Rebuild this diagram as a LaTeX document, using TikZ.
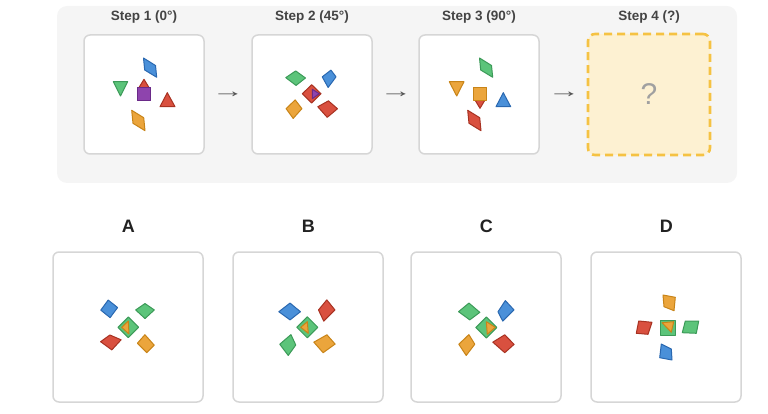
\documentclass[tikz,border=0pt]{standalone}
\usepackage{fontspec}
\setmainfont{Liberation Sans}
\definecolor{panelbg}{HTML}{F5F5F5}
\definecolor{boxline}{HTML}{D6D6D6}
\definecolor{titlec}{HTML}{444444}
\definecolor{letterc}{HTML}{222222}
\definecolor{arrowc}{HTML}{555555}
\definecolor{qc}{HTML}{A0A0A0}
\definecolor{dashc}{HTML}{F5C243}
\definecolor{dashfill}{HTML}{FDF1D2}
\definecolor{cblue}{HTML}{4A90D9}
\definecolor{dblue}{HTML}{2A68B0}
\definecolor{cgreen}{HTML}{5CC47A}
\definecolor{dgreen}{HTML}{3C9A58}
\definecolor{cred}{HTML}{D9503F}
\definecolor{dred}{HTML}{A83222}
\definecolor{corange}{HTML}{EBA53C}
\definecolor{dorange}{HTML}{C88418}
\definecolor{cpurple}{HTML}{8E44AD}
\definecolor{dpurple}{HTML}{6A2A88}
\tikzset{
  panel/.style={fill=panelbg, rounded corners=10pt},
  stepbox/.style={draw=boxline, line width=1.5pt, fill=white, rounded corners=6pt, inner sep=0pt, minimum width=120pt, minimum height=119pt},
  optbox/.style={draw=boxline, line width=1.5pt, fill=white, rounded corners=6pt, inner sep=0pt, minimum width=150pt, minimum height=150pt},
  qbox/.style={draw=dashc, fill=dashfill, line width=2.6pt, dash pattern=on 8pt off 5pt, rounded corners=7pt, inner sep=0pt, minimum width=122pt, minimum height=121pt},
  steptitle/.style={font=\fontsize{13.5}{14}\selectfont\bfseries, text=titlec, inner sep=0pt},
  optletter/.style={font=\fontsize{18}{20}\selectfont\bfseries, text=letterc, inner sep=0pt},
  arrowtxt/.style={font=\fontsize{19}{20}\selectfont, text=arrowc, inner sep=0pt},
  qtxt/.style={font=\fontsize{30}{32}\selectfont, text=qc, inner sep=0pt},
  sh/.style={line width=1pt, line join=round},
  fb/.style={sh, fill=cblue, draw=dblue},
  fg/.style={sh, fill=cgreen, draw=dgreen},
  fr/.style={sh, fill=cred, draw=dred},
  fo/.style={sh, fill=corange, draw=dorange},
  fp/.style={sh, fill=cpurple, draw=dpurple},
  grow/.style={scale around={1.18:#1}},
  growo/.style={scale around={1.12:#1}},
}
\begin{document}
\begin{tikzpicture}[x=1pt,y=-1pt]
\useasboundingbox (0,0) rectangle (768,414);
% background panel
\fill[panel] (57,6) rectangle (737,183);
% titles
\node[steptitle] (t1) at (144,17.5) {Step 1 (0°)};
\node[steptitle] (t2) at (312,17.5) {Step 2 (45°)};
\node[steptitle] (t3) at (479,17.5) {Step 3 (90°)};
\node[steptitle] (t4) at (649,17.5) {Step 4 (?)};
% step boxes
\node[stepbox] (s1) at (144,94.5) {};
\node[stepbox] (s2) at (312,94.5) {};
\node[stepbox] (s3) at (479,94.5) {};
\node[qbox] (s4) at (649,94.5) {};
\node[qtxt] (q) at (649,94.5) {?};
% arrows
\node[arrowtxt] (a1) at (228,95) {\scalebox{1.7}[1]{→}};
\node[arrowtxt] (a2) at (396,95) {\scalebox{1.7}[1]{→}};
\node[arrowtxt] (a3) at (564,95) {\scalebox{1.7}[1]{→}};
% step 1 shapes
\draw[fb] (143.5,58) -- (155.5,65.5) -- (156.7,77.3) -- (144.7,70) -- cycle;
\draw[fg] (113.3,81.7) -- (127.7,81.7) -- (120.5,96) -- cycle;
\draw[fr] (144,79.3) -- (138.7,88) -- (149.3,88) -- cycle;
\draw[fp] (137.3,87.3) rectangle (150.7,100.7);
\draw[fr] (167.3,92.7) -- (160,106.7) -- (175,106.7) -- cycle;
\draw[fo] (131.7,110.3) -- (143.7,117.7) -- (145,130.7) -- (133,123.3) -- cycle;
% step 2 shapes
\draw[fg, grow={(295.75,78)}] (287.3,77.7) -- (295.7,72) -- (304,78) -- (296,84.3) -- cycle;
\draw[fb, grow={(329.3,77.8)}] (323.3,77) -- (330.7,71.3) -- (335,77) -- (328.3,86) -- cycle;
\draw[fr] (311.7,84.7) -- (321,93.7) -- (311.7,103) -- (302.4,93.7) -- cycle;
\draw[fp] (312.3,89.3) -- (319.3,93.7) -- (312.3,98.7) -- cycle;
\draw[fo, grow={(294,109)}] (287.3,108.7) -- (295,101.3) -- (300.7,108.7) -- (293.3,117) -- cycle;
\draw[fr, grow={(327.7,108.4)}] (319.3,107) -- (328.3,102) -- (336,108.7) -- (327.3,116) -- cycle;
% step 3 shapes
\draw[fg] (479.5,58) -- (491.5,65.5) -- (492.7,77.3) -- (480.7,70) -- cycle;
\draw[fo] (449.3,81.7) -- (464,81.7) -- (456.7,96) -- cycle;
\draw[fr] (475,100) -- (485,100) -- (480,108.3) -- cycle;
\draw[fo] (473.3,87.3) rectangle (486.7,100.3);
\draw[fb] (503.3,92.7) -- (496,106.7) -- (510.7,106.7) -- cycle;
\draw[fr] (467.7,110.3) -- (479.7,117.7) -- (481,130.7) -- (469,123.3) -- cycle;
% option letters
\node[optletter] (lA) at (128.3,226.5) {A};
\node[optletter] (lB) at (308.3,226.5) {B};
\node[optletter] (lC) at (486.3,226.5) {C};
\node[optletter] (lD) at (666.3,226.5) {D};
% option boxes
\node[optbox] (oA) at (128,327) {};
\node[optbox] (oB) at (308,327) {};
\node[optbox] (oC) at (486,327) {};
\node[optbox] (oD) at (666,327) {};
% option A
\draw[fb, growo={(109.2,308.9)}] (101.7,310) -- (108.3,301) -- (116.7,307.7) -- (110,316.7) -- cycle;
\draw[fg, growo={(145,310.5)}] (136.7,310) -- (145,304.3) -- (153.3,310) -- (145,317.7) -- cycle;
\draw[fg] (128.3,317) -- (138.6,327.3) -- (128.3,337.6) -- (118,327.3) -- cycle;
\draw[fo] (121.7,327.3) -- (128.3,321) -- (129,334) -- cycle;
\draw[fr, growo={(110.9,341.6)}] (101.7,341.7) -- (110,335.7) -- (120,340) -- (111.7,349) -- cycle;
\draw[fo, growo={(145.8,343.9)}] (138.3,343.3) -- (145,335.7) -- (153.3,345) -- (146.7,351.7) -- cycle;
% option B
\draw[fb, growo={(289.8,311.6)}] (280,311.7) -- (290,304) -- (299.3,311.7) -- (290,319) -- cycle;
\draw[fr, growo={(326,310.3)}] (319.3,310) -- (326.7,301) -- (334,310) -- (324,320) -- cycle;
\draw[fg] (307.3,316.8) -- (317.8,327.3) -- (307.3,337.8) -- (296.8,327.3) -- cycle;
\draw[fo] (300.7,327.3) -- (307.3,321.7) -- (308.3,333.3) -- cycle;
\draw[fg, growo={(288.7,344.8)}] (280.7,344.3) -- (290.7,335.7) -- (295,345) -- (288.3,354.3) -- cycle;
\draw[fo, growo={(324.8,343.4)}] (315,342.3) -- (326.7,335.7) -- (334,344) -- (323.3,351.7) -- cycle;
% option C
\draw[fg, growo={(469.3,311.8)}] (459.7,311.7) -- (469,304) -- (478.7,312.3) -- (469.7,319) -- cycle;
\draw[fb, growo={(505,310.9)}] (498.7,311.7) -- (505.3,301.7) -- (513,310) -- (503,320) -- cycle;
\draw[fg] (486.3,317) -- (496.8,327.5) -- (486.3,338) -- (475.8,327.5) -- cycle;
\draw[fo] (486.3,321.7) -- (495.3,327.3) -- (487.3,334.3) -- cycle;
\draw[fo, growo={(467.2,344.7)}] (459.7,344.3) -- (468.7,335.7) -- (474,344.3) -- (466.3,354.3) -- cycle;
\draw[fr, growo={(504.1,343.5)}] (494,342.3) -- (504.7,335.7) -- (513,344.3) -- (504.7,351.7) -- cycle;
% option D
\draw[fo] (663,295) -- (675.3,297.3) -- (674,310.7) -- (664,306.7) -- cycle;
\draw[fr] (638.7,321) -- (652,322.3) -- (648,334.3) -- (636.3,333.3) -- cycle;
\draw[fg] (660,320) rectangle (675,335);
\draw[fo] (662,322.7) -- (673.7,321.7) -- (671.3,332.3) -- cycle;
\draw[fg] (685.3,321) -- (698.7,321) -- (696.3,333.3) -- (682.3,332.7) -- cycle;
\draw[fb] (661.3,344) -- (671.3,349) -- (672,360) -- (659.7,357.7) -- cycle;
\end{tikzpicture}
\end{document}
